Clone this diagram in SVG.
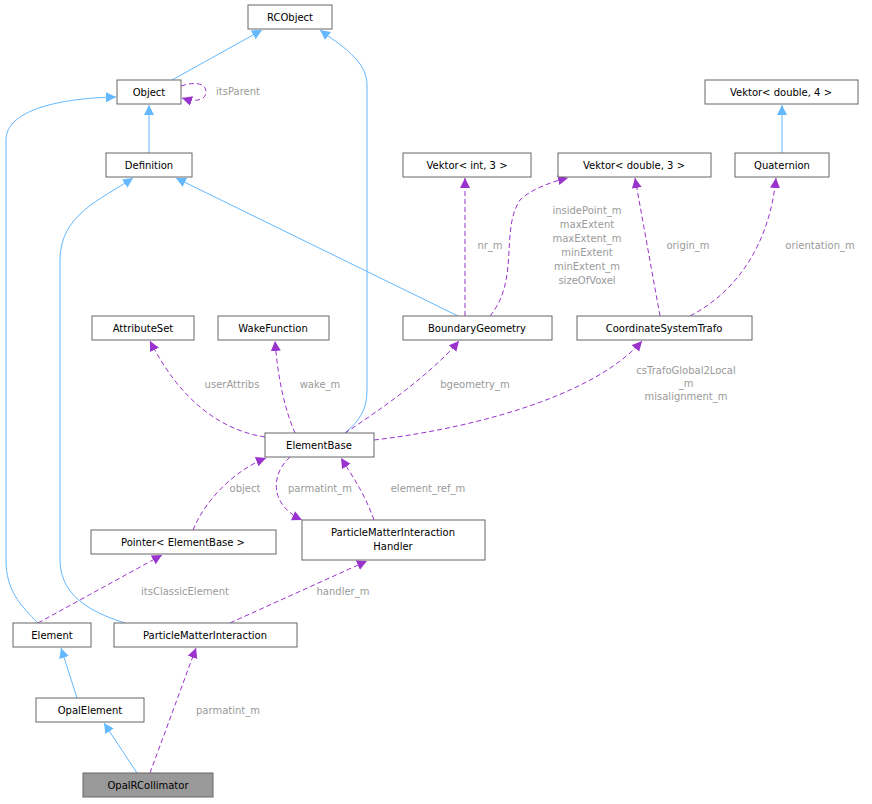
<svg xmlns="http://www.w3.org/2000/svg" width="872" height="804" viewBox="0 0 872 804">
<style>
.n rect{fill:#fff;stroke:#666;stroke-width:1}
text{font-family:"DejaVu Sans",sans-serif;font-size:10px;fill:#000;text-anchor:middle}
.l{fill:#9a9a9a}
.i{fill:none;stroke:#63b8ff;stroke-width:1;marker-end:url(#ib)}
.u{fill:none;stroke:#9a32cd;stroke-width:1;stroke-dasharray:5,3;marker-end:url(#up)}
</style>
<defs>
<marker id="ib" markerWidth="12" markerHeight="12" refX="10" refY="5" orient="auto" markerUnits="userSpaceOnUse"><path d="M0,0 L10,5 L0,10 z" fill="#63b8ff"/></marker>
<marker id="up" markerWidth="12" markerHeight="12" refX="10" refY="5" orient="auto" markerUnits="userSpaceOnUse"><path d="M0,0 L10,5 L0,10 z" fill="#9a32cd"/></marker>
</defs>
<rect width="872" height="804" fill="#fff"/>
<g id="edges">
<path class="i" d="M172,80 L262,30"/>
<path class="u" d="M181,86 C200,80 206,86 206,92 C206,99 198,103 182,98"/>
<text class="l" x="238" y="95">itsParent</text>
<path class="i" d="M149,153 L149,105"/>
<path class="i" d="M38,623 C20,605 6,590 6,560 L6,140 C6,110 60,98 116,97"/>
<path class="i" d="M345,433 C360,420 367,410 367,390 L367,85 C367,60 340,45 320,30"/>
<path class="i" d="M458,316 L176,178"/>
<path class="i" d="M125,623 C100,615 60,600 60,560 L60,260 C60,215 100,200 133,178"/>
<path class="i" d="M782,153 L782,105"/>
<path class="i" d="M77,698 L61,648"/>
<path class="i" d="M137,773 L104,723"/>
<path class="u" d="M150,773 L196,648"/>
<text class="l" x="228" y="714">parmatint_m</text>
<path class="u" d="M38,623 L162,555"/>
<text class="l" x="185" y="595">itsClassicElement</text>
<path class="u" d="M230,623 L367,561"/>
<text class="l" x="343" y="595">handler_m</text>
<path class="u" d="M193,530 C205,500 235,470 266,458"/>
<text class="l" x="245" y="492">object</text>
<path class="u" d="M290,457 C270,475 270,505 302,520"/>
<text class="l" x="320" y="492">parmatint_m</text>
<path class="u" d="M374,520 C365,495 355,480 341,458"/>
<text class="l" x="428" y="492">element_ref_m</text>
<path class="u" d="M265,437 C220,430 180,400 150,341"/>
<text class="l" x="232" y="388">userAttribs</text>
<path class="u" d="M295,433 C285,410 278,380 275,341"/>
<text class="l" x="320" y="388">wake_m</text>
<path class="u" d="M345,433 C380,410 430,375 459,341"/>
<text class="l" x="475" y="388">bgeometry_m</text>
<path class="u" d="M374,440 C460,430 590,400 642,341"/>
<text class="l" x="686" y="374">csTrafoGlobal2Local</text>
<text class="l" x="686" y="387">_m</text>
<text class="l" x="686" y="400">misalignment_m</text>
<path class="u" d="M465,316 L465,178"/>
<text class="l" x="490" y="249">nr_m</text>
<path class="u" d="M490,316 C520,280 500,230 520,200 C530,190 550,182 568,178"/>
<text class="l" x="587" y="214">insidePoint_m</text>
<text class="l" x="587" y="228">maxExtent</text>
<text class="l" x="587" y="242">maxExtent_m</text>
<text class="l" x="587" y="256">minExtent</text>
<text class="l" x="587" y="270">minExtent_m</text>
<text class="l" x="587" y="284">sizeOfVoxel</text>
<path class="u" d="M660,316 L635,178"/>
<text class="l" x="688" y="249">origin_m</text>
<path class="u" d="M690,316 C740,290 770,240 776,178"/>
<text class="l" x="820" y="249">orientation_m</text>
</g>
<g id="RCObject" class="n"><rect x="248" y="5" width="84" height="24"/><text x="290" y="21">RCObject</text></g>
<g id="Object" class="n"><rect x="117" y="80" width="64" height="24"/><text x="149" y="96">Object</text></g>
<g id="Vektor4" class="n"><rect x="705" y="80" width="153" height="24"/><text x="781" y="96">Vektor&lt; double, 4 &gt;</text></g>
<g id="Definition" class="n"><rect x="106" y="153" width="86" height="24"/><text x="149" y="169">Definition</text></g>
<g id="VektorInt3" class="n"><rect x="403" y="153" width="128" height="24"/><text x="467" y="169">Vektor&lt; int, 3 &gt;</text></g>
<g id="Vektor3" class="n"><rect x="558" y="153" width="153" height="24"/><text x="634" y="169">Vektor&lt; double, 3 &gt;</text></g>
<g id="Quaternion" class="n"><rect x="735" y="153" width="94" height="24"/><text x="782" y="169">Quaternion</text></g>
<g id="AttributeSet" class="n"><rect x="92" y="316" width="102" height="24"/><text x="143" y="332">AttributeSet</text></g>
<g id="WakeFunction" class="n"><rect x="218" y="316" width="111" height="24"/><text x="273" y="332">WakeFunction</text></g>
<g id="BoundaryGeometry" class="n"><rect x="403" y="316" width="149" height="24"/><text x="477" y="332">BoundaryGeometry</text></g>
<g id="CoordinateSystemTrafo" class="n"><rect x="577" y="316" width="175" height="24"/><text x="664" y="332">CoordinateSystemTrafo</text></g>
<g id="ElementBase" class="n"><rect x="265" y="433" width="109" height="24"/><text x="319" y="449">ElementBase</text></g>
<g id="Pointer" class="n"><rect x="91" y="530" width="185" height="24"/><text x="183" y="546">Pointer&lt; ElementBase &gt;</text></g>
<g id="Handler" class="n"><rect x="302" y="520" width="183" height="40"/><text x="393" y="536">ParticleMatterInteraction</text><text x="393" y="550">Handler</text></g>
<g id="Element" class="n"><rect x="13" y="623" width="78" height="24"/><text x="52" y="639">Element</text></g>
<g id="PMI" class="n"><rect x="114" y="623" width="183" height="24"/><text x="205" y="639">ParticleMatterInteraction</text></g>
<g id="OpalElement" class="n"><rect x="36" y="698" width="108" height="24"/><text x="90" y="714">OpalElement</text></g>
<g id="OpalRCollimator" class="n"><rect x="83" y="773" width="130" height="24" style="fill:#999"/><text x="148" y="789">OpalRCollimator</text></g>
</svg>
